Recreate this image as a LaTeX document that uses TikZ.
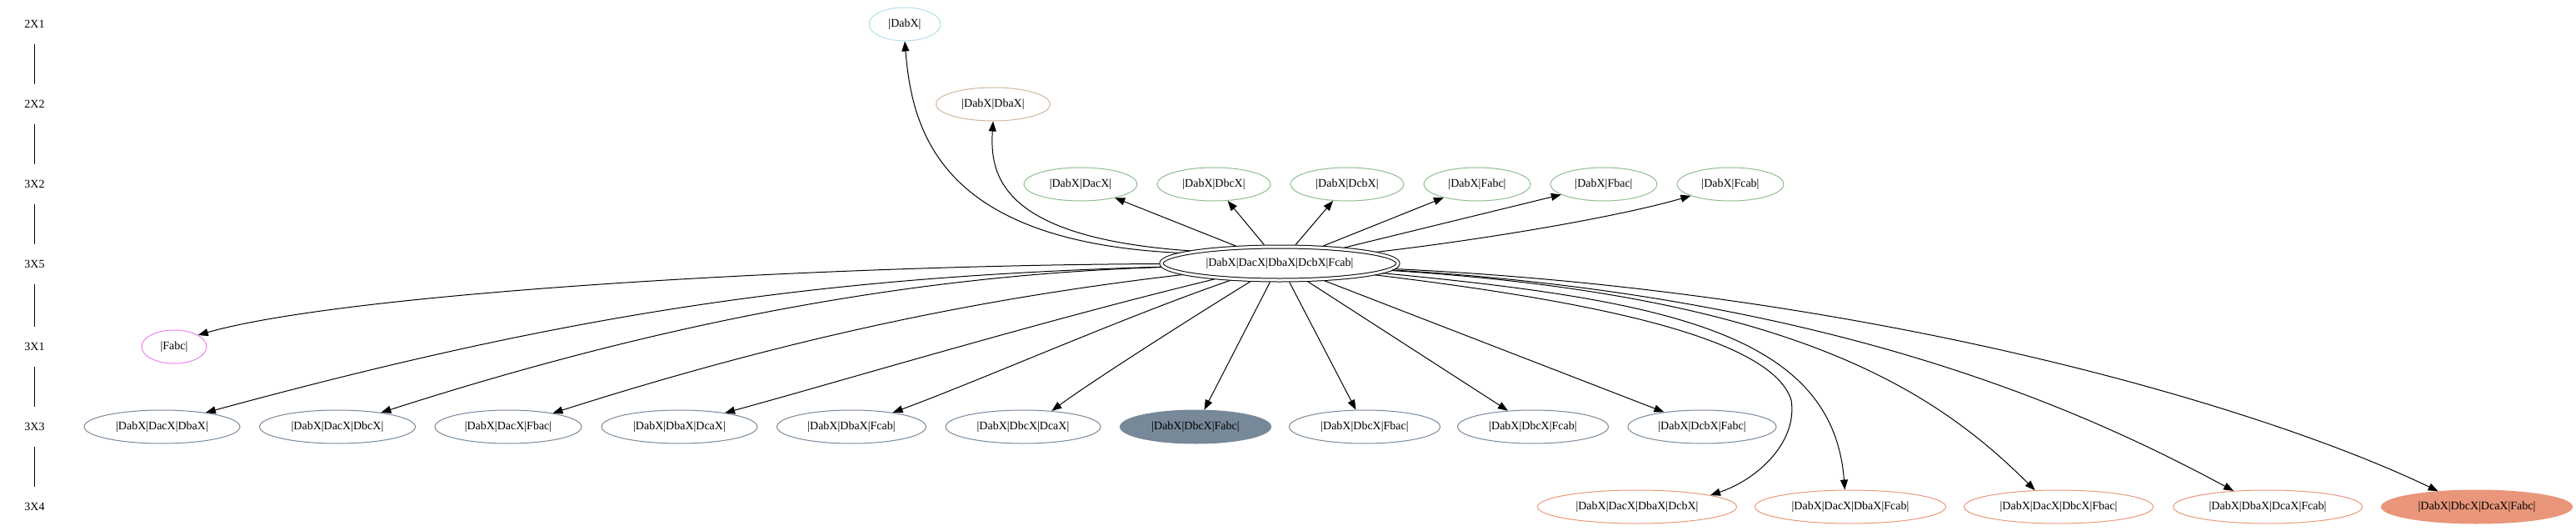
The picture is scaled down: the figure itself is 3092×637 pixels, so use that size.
\documentclass[tikz,border=0pt]{standalone}
\usepackage{fontspec}
\setmainfont{Liberation Serif}
\usetikzlibrary{arrows.meta,shapes.geometric}
\definecolor{cpowder}{HTML}{B0E0E6}
\definecolor{ctan}{HTML}{CDB79E}
\definecolor{cgreen}{HTML}{8FBC8F}
\definecolor{cviolet}{HTML}{EE82EE}
\definecolor{cslate}{HTML}{778899}
\definecolor{csalmon}{HTML}{E9967A}
\begin{document}
\begin{tikzpicture}[x=1pt,y=-1pt,
  every node/.style={font=\fontsize{14}{16}\selectfont},
  gnode/.style={ellipse, draw, line width=1pt, inner sep=0pt, minimum height=40pt},
  ranklbl/.style={inner sep=0pt, minimum height=47pt, minimum width=30pt},
  edge/.style={line width=1pt, -{Triangle[length=12pt,width=9pt]}},
  rankbar/.style={line width=1.2pt}]
\useasboundingbox (0,0) rectangle (3092,637);
% rank labels
\node[ranklbl] (r1) at (41.5,29) {2X1};
\node[ranklbl] (r2) at (41.5,125) {2X2};
\node[ranklbl] (r3) at (41.5,221) {3X2};
\node[ranklbl] (r4) at (41.5,317) {3X5};
\node[ranklbl] (r5) at (41.5,416) {3X1};
\node[ranklbl] (r6) at (41.5,512) {3X3};
\node[ranklbl] (r7) at (41.5,608) {3X4};
\draw[rankbar] (r1.south) -- (r2.north);
\draw[rankbar] (r2.south) -- (r3.north);
\draw[rankbar] (r3.south) -- (r4.north);
\draw[rankbar] (r4.south) -- (r5.north);
\draw[rankbar] (r5.south) -- (r6.north);
\draw[rankbar] (r6.south) -- (r7.north);
% nodes
\node[gnode, draw=cpowder, minimum width=86pt] (a1) at (1086,29) {|DabX|};
\node[gnode, draw=ctan, minimum width=137pt] (a2) at (1192,125) {|DabX|DbaX|};
\node[gnode, draw=cgreen, minimum width=136pt] (g1) at (1297,221) {|DabX|DacX|};
\node[gnode, draw=cgreen, minimum width=136pt] (g2) at (1457,221) {|DabX|DbcX|};
\node[gnode, draw=cgreen, minimum width=136pt] (g3) at (1617,221) {|DabX|DcbX|};
\node[gnode, draw=cgreen, minimum width=128pt] (g4) at (1773,221) {|DabX|Fabc|};
\node[gnode, draw=cgreen, minimum width=128pt] (g5) at (1925,221) {|DabX|Fbac|};
\node[gnode, draw=cgreen, minimum width=128pt] (g6) at (2077,221) {|DabX|Fcab|};
\node[ellipse, draw, line width=1pt, double, double distance=3pt, inner sep=0pt,
      outer sep=2.5pt, minimum width=284pt, minimum height=40pt] (c) at (1536,316) {|DabX|DacX|DbaX|DcbX|Fcab|};
\node[gnode, draw=cviolet, minimum width=78pt] (f1) at (209,416) {|Fabc|};
\node[gnode, draw=cslate, minimum width=187pt] (b1) at (194.5,512) {|DabX|DacX|DbaX|};
\node[gnode, draw=cslate, minimum width=187pt] (b2) at (405,512) {|DabX|DacX|DbcX|};
\node[gnode, draw=cslate, minimum width=176pt] (b3) at (610,512) {|DabX|DacX|Fbac|};
\node[gnode, draw=cslate, minimum width=187pt] (b4) at (815.5,512) {|DabX|DbaX|DcaX|};
\node[gnode, draw=cslate, minimum width=179pt] (b5) at (1022,512) {|DabX|DbaX|Fcab|};
\node[gnode, draw=cslate, minimum width=186pt] (b6) at (1228,512) {|DabX|DbcX|DcaX|};
\node[gnode, draw=cslate, fill=cslate, minimum width=181pt] (b7) at (1435,512) {|DabX|DbcX|Fabc|};
\node[gnode, draw=cslate, minimum width=181pt] (b8) at (1638,512) {|DabX|DbcX|Fbac|};
\node[gnode, draw=cslate, minimum width=181pt] (b9) at (1840,512) {|DabX|DbcX|Fcab|};
\node[gnode, draw=cslate, minimum width=178pt] (b10) at (2043,512) {|DabX|DcbX|Fabc|};
\node[gnode, draw=csalmon, minimum width=239pt] (d1) at (1965,608) {|DabX|DacX|DbaX|DcbX|};
\node[gnode, draw=csalmon, minimum width=229pt] (d2) at (2221,608) {|DabX|DacX|DbaX|Fcab|};
\node[gnode, draw=csalmon, minimum width=227pt] (d3) at (2471,608) {|DabX|DacX|DbcX|Fbac|};
\node[gnode, draw=csalmon, minimum width=227pt] (d4) at (2722,608) {|DabX|DbaX|DcaX|Fcab|};
\node[gnode, draw=csalmon, fill=csalmon, minimum width=229pt] (d5) at (2973,608) {|DabX|DbcX|DcaX|Fabc|};
% upward edges
\draw[edge] (c.174) .. controls (1130,290) and (1095,160) .. (a1.south);
\draw[edge] (c.172) .. controls (1200,285) and (1188,210) .. (a2.south);
\draw[edge] (c) -- (g1);
\draw[edge] (c) -- (g2);
\draw[edge] (c) -- (g3);
\draw[edge] (c) -- (g4);
\draw[edge] (c) -- (g5);
\draw[edge] (c) .. controls (1800,285) and (1950,258) .. (g6);
% left downward edges
\draw[edge] (c) .. controls (1000,318) and (420,350) .. (f1.26);
\draw[edge] (c) .. controls (992,332) and (699,372) .. (b1.18);
\draw[edge] (c) .. controls (1100,330) and (800,385) .. (b2.18);
\draw[edge] (c) .. controls (1200,355) and (967,399) .. (b3.17);
\draw[edge] (c) .. controls (1250,385) and (1000,460) .. (b4.17);
\draw[edge] (c) .. controls (1350,380) and (1180,455) .. (b5.19);
\draw[edge] (c) .. controls (1400,400) and (1300,465) .. (b6.29);
\draw[edge] (c) -- (b7);
\draw[edge] (c) -- (b8);
\draw[edge] (c) -- (b9);
\draw[edge] (c) -- (b10);
% right downward edges
\draw[edge] (c) .. controls (1900,360) and (2126,403) .. (2150,480) .. controls (2158,530) and (2110,575) .. (d1.9);
\draw[edge] (c) .. controls (2000,360) and (2200,400) .. (d2.108);
\draw[edge] (c) .. controls (2150,355) and (2321,467) .. (d3.145);
\draw[edge] (c) .. controls (2200,355) and (2501,492) .. (d4.155);
\draw[edge] (c) .. controls (2250,350) and (2715,488) .. (d5.158);
\end{tikzpicture}
\end{document}
